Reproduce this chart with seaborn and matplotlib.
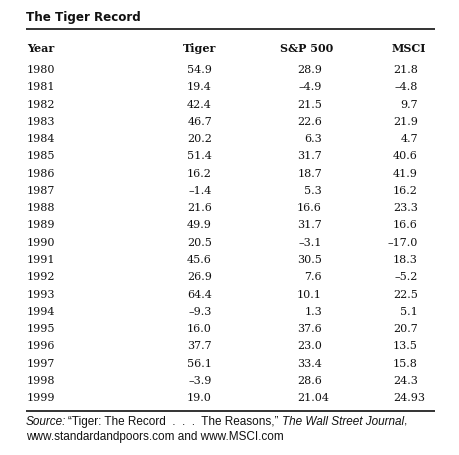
import matplotlib.pyplot as plt
import seaborn as sns

sns.set_theme(style="white")

years = [1980, 1981, 1982, 1983, 1984, 1985, 1986, 1987, 1988, 1989,
         1990, 1991, 1992, 1993, 1994, 1995, 1996, 1997, 1998, 1999]
tiger = ["54.9", "19.4", "42.4", "46.7", "20.2", "51.4", "16.2", "-1.4", "21.6", "49.9",
         "20.5", "45.6", "26.9", "64.4", "-9.3", "16.0", "37.7", "56.1", "-3.9", "19.0"]
sp500 = ["28.9", "-4.9", "21.5", "22.6", "6.3", "31.7", "18.7", "5.3", "16.6", "31.7",
         "-3.1", "30.5", "7.6", "10.1", "1.3", "37.6", "23.0", "33.4", "28.6", "21.04"]
msci = ["21.8", "-4.8", "9.7", "21.9", "4.7", "40.6", "41.9", "16.2", "23.3", "16.6",
        "-17.0", "18.3", "-5.2", "22.5", "5.1", "20.7", "13.5", "15.8", "24.3", "24.93"]
headers = ["Year", "Tiger", "S&P 500", "MSCI"]

serif = ["DejaVu Serif"]
sans = ["Liberation Sans", "DejaVu Sans"]

fig = plt.figure(figsize=(4.6, 4.55), dpi=100)
ax = fig.add_axes([0, 0, 1, 1])
ax.set_xlim(0, 460)
ax.set_ylim(455, 0)
ax.axis("off")

# title and rules
ax.text(26, 21, "The Tiger Record", family=["DejaVu Sans"], stretch="condensed",
        weight="bold", fontsize=9.5, ha="left", va="baseline", color="#111")
ax.hlines([29, 411], 26, 435, color="#111", lw=1.2)

# header row
head_x = [27, 216, 333, 426]
head_ha = ["left", "right", "right", "right"]
for h, x, ha in zip(headers, head_x, head_ha):
    ax.text(x, 52, h, family=serif, weight="bold", fontsize=8, ha=ha,
            va="baseline", color="#111")

fig.canvas.draw()
rend = fig.canvas.get_renderer()
probe = ax.text(0, 0, "0", family=serif, fontsize=8)
digit_w = probe.get_window_extent(rend).width
probe.remove()

# body rows, right edge at the first decimal digit, longer decimals stick out
y0, step = 73, 17.27
right_x = [212, 322, 418]
for i, yr in enumerate(years):
    y = y0 + i * step
    ax.text(27, y, str(yr), family=serif, fontsize=8, ha="left", va="baseline", color="#111")
    for col, rx in zip([tiger, sp500, msci], right_x):
        val = col[i]
        extra = len(val.split(".")[1]) - 1
        ax.text(rx + extra * digit_w, y, val.replace("-", "\u2013"), family=serif,
                fontsize=8, ha="right", va="baseline", color="#111")

# source note
src_kw = dict(family=sans, fontsize=8.5, va="baseline", color="#111")
inv = ax.transData.inverted()


def right_end(t):
    return inv.transform(t.get_window_extent(rend).get_points())[1][0]


t = ax.text(26, 425, "Source:", style="italic", ha="left", **src_kw)
t = ax.text(right_end(t) + 2, 425, "\u201cTiger: The Record  .  .  .  The Reasons,\u201d ",
            ha="left", **src_kw)
t = ax.text(right_end(t), 425, "The Wall Street Journal", style="italic", ha="left", **src_kw)
ax.text(right_end(t), 425, ",", ha="left", **src_kw)
ax.text(26, 440, "www.standardandpoors.com and www.MSCI.com", ha="left", **src_kw)

fig.savefig("out.png", dpi=100, facecolor="white")
